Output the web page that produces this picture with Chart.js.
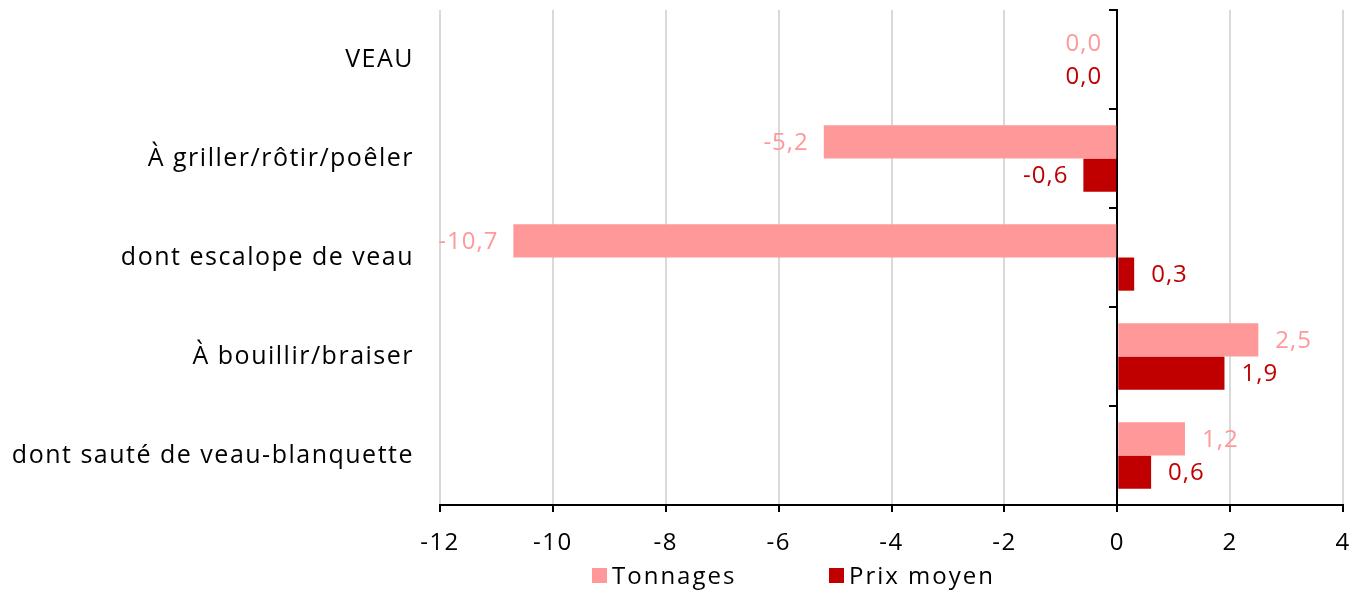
<!DOCTYPE html>
<html>
<head>
<meta charset="utf-8">
<script src="https://cdn.jsdelivr.net/npm/chart.js@4.4.1/dist/chart.umd.min.js"></script>
<style>
  html, body { margin: 0; padding: 0; background: #fff; }
  #wrap { width: 1353px; height: 590px; }
</style>
</head>
<body>
<div id="wrap"><canvas id="VeauChart" width="1353" height="590"></canvas></div>
<script>
// categories and values
const categories = ["VEAU", "À griller/rôtir/poêler", "dont escalope de veau", "À bouillir/braiser", "dont sauté de veau-blanquette"];
const tonnages = [0.0, -5.2, -10.7, 2.5, 1.2];
const prixMoyen = [0.0, -0.6, 0.3, 1.9, 0.6];
const xTicks = [-12, -10, -8, -6, -4, -2, 0, 2, 4];

const FONT = "'Open Sans', sans-serif";
const LIGHT = "#FF9999";
const DARK = "#C00000";

const fmt = v => v.toFixed(1).replace(".", ",");

// the reference font is wider, spread the letters a bit
const spacing = {
    id: "spacing",
    beforeDraw(chart) { chart.ctx.letterSpacing = "1.5px"; }
};

// value labels at the end of each bar
const barLabels = {
    id: "barLabels",
    afterDatasetsDraw(chart) {
        const ctx = chart.ctx;
        ctx.save();
        ctx.font = "24px " + FONT;
        ctx.letterSpacing = "1px";
        ctx.textBaseline = "middle";
        chart.data.datasets.forEach((ds, i) => {
            const meta = chart.getDatasetMeta(i);
            meta.data.forEach((bar, j) => {
                const v = ds.data[j];
                ctx.fillStyle = ds.backgroundColor;
                if (v > 0) {
                    ctx.textAlign = "left";
                    ctx.fillText(fmt(v), bar.x + 17, bar.y + 1);
                } else {
                    ctx.textAlign = "right";
                    ctx.fillText(fmt(v), bar.x - 15, bar.y + 1);
                }
            });
        });
        ctx.restore();
    }
};

// legend under the axis
const bottomLegend = {
    id: "bottomLegend",
    afterDraw(chart) {
        const ctx = chart.ctx;
        const pos = [592, 829];
        ctx.save();
        ctx.font = "24px " + FONT;
        ctx.letterSpacing = "2px";
        ctx.textBaseline = "middle";
        ctx.textAlign = "left";
        chart.data.datasets.forEach((ds, i) => {
            ctx.fillStyle = ds.backgroundColor;
            ctx.fillRect(pos[i], 568, 15, 15);
            ctx.fillStyle = "#000";
            ctx.fillText(ds.label, pos[i] + 20, 577);
        });
        ctx.restore();
    }
};

const ctx = document.getElementById("VeauChart").getContext("2d");

new Chart(ctx, {
    type: "bar",
    data: {
        labels: categories,
        datasets: [
            {
                label: "Tonnages",
                data: tonnages,
                backgroundColor: LIGHT,
                categoryPercentage: 0.67,
                barPercentage: 1.0
            },
            {
                label: "Prix moyen",
                data: prixMoyen,
                backgroundColor: DARK,
                categoryPercentage: 0.67,
                barPercentage: 1.0
            }
        ]
    },
    options: {
        indexAxis: "y",
        responsive: false,
        animation: false,
        layout: { padding: { top: 10, right: 10, left: 0, bottom: 0 } },
        plugins: {
            legend: { display: false },
            tooltip: { enabled: false }
        },
        scales: {
            x: {
                min: -12,
                max: 4,
                afterBuildTicks: axis => { axis.ticks = xTicks.map(v => ({ value: v })); },
                afterFit: axis => {
                    axis.height = 85;
                    axis.paddingLeft = 0;
                    axis.paddingRight = 0;
                },
                grid: { color: "#D9D9D9", lineWidth: 2, tickColor: "#000", tickLength: 7 },
                border: { color: "#000", width: 2 },
                ticks: {
                    color: "#000",
                    font: { family: FONT, size: 24 },
                    padding: 17
                }
            },
            y: {
                position: "left",
                afterFit: axis => {
                    axis.width = 440;
                    axis.paddingTop = 0;
                    axis.paddingBottom = 0;
                },
                grid: { display: false, drawTicks: false },
                border: { display: false },
                ticks: {
                    color: "#000",
                    font: { family: FONT, size: 25 },
                    padding: 26
                }
            },
            yZero: {
                axis: "y",
                type: "category",
                position: { x: 0 },
                offset: true,
                grid: { offset: true, drawOnChartArea: false, drawTicks: true, tickLength: 7, tickColor: "#000", lineWidth: 2 },
                border: { color: "#000", width: 2 },
                ticks: { display: false }
            }
        }
    },
    plugins: [spacing, barLabels, bottomLegend]
});
</script>
</body>
</html>
